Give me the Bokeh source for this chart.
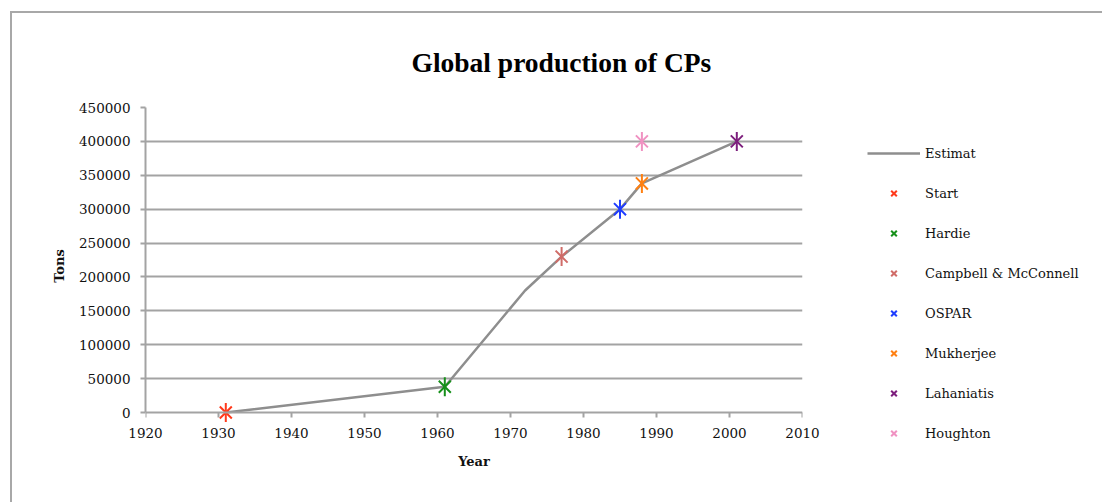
from bokeh.plotting import figure
from bokeh.models import Legend, LegendItem, Title, FixedTicker, NumeralTickFormatter, LinearAxis
from bokeh.embed import file_html
from bokeh.resources import INLINE
import math

# Estimated global production curve (year, tons)
est_years = [1931, 1961, 1972, 1977, 1985, 1988, 2001]
est_tons = [0, 38000, 180000, 230000, 300000, 338000, 400000]

# Individual published estimates
sources = ["Start", "Hardie", "Campbell & McConnell", "OSPAR", "Mukherjee", "Lahaniatis", "Houghton"]
src_years = [1931, 1961, 1977, 1985, 1988, 2001, 1988]
src_tons = [0, 38000, 230000, 300000, 338000, 400000, 400000]
src_colors = ["#ff3a1c", "#16901a", "#d06c68", "#1f3dff", "#ff8012", "#7d1f7d", "#f092c2"]

x_ticks = list(range(1920, 2011, 10))
y_ticks = list(range(0, 450001, 50000))

SERIF = "DejaVu Serif"
GRID = "#a3a3a3"
TEXT = "#111111"

# a little room below zero so the markers sitting on the axis are not cut
Y_PAD = 12 / 305 * 450000

p = figure(
    width=1092, height=491,
    frame_width=657, frame_height=317,
    min_border_left=133, min_border_top=94, min_border_right=300, min_border_bottom=78,
    x_range=(1920, 2010), y_range=(-Y_PAD, 450000),
    x_axis_location=None,
    output_backend="svg", toolbar_location=None,
)
p.styles = {
    "margin-left": "10px", "margin-top": "11px",
    "border-left": "2px solid #a8a8a8", "border-top": "2px solid #a8a8a8",
}
p.outline_line_color = None
p.background_fill_color = "white"
p.border_fill_color = "white"

# x axis line and ticks sit on y = 0
x_line = LinearAxis(
    ticker=FixedTicker(ticks=x_ticks), fixed_location=0,
    axis_line_color=GRID, axis_line_width=2,
    major_tick_line_color=GRID, major_tick_line_width=2,
    major_tick_in=0, major_tick_out=5, minor_tick_line_color=None,
    major_label_text_color=None,
)
p.add_layout(x_line, "below")

# x tick labels and title below the frame
x_labels = LinearAxis(
    ticker=FixedTicker(ticks=x_ticks),
    axis_line_color=None, major_tick_line_color=None, minor_tick_line_color=None,
    major_tick_in=0, major_tick_out=0,
    major_label_standoff=3,
    major_label_text_font=SERIF, major_label_text_font_size="13.5px",
    major_label_text_color=TEXT,
    axis_label="Year", axis_label_standoff=13,
    axis_label_text_font=SERIF, axis_label_text_font_size="13px",
    axis_label_text_font_style="bold", axis_label_text_color=TEXT,
)
p.add_layout(x_labels, "below")

ya = p.yaxis[0]
ya.ticker = FixedTicker(ticks=y_ticks)
ya.formatter = NumeralTickFormatter(format="0")
ya.bounds = (0, 450000)
ya.axis_line_color = GRID
ya.axis_line_width = 2
ya.major_tick_line_color = GRID
ya.major_tick_line_width = 2
ya.major_tick_in = 0
ya.major_tick_out = 5
ya.minor_tick_line_color = None
ya.major_label_text_font = SERIF
ya.major_label_text_font_size = "13.5px"
ya.major_label_text_color = TEXT
ya.major_label_standoff = 10
ya.major_label_orientation = "horizontal"
ya.axis_label = "Tons"
ya.axis_label_standoff = 9
ya.axis_label_text_font = SERIF
ya.axis_label_text_font_size = "13px"
ya.axis_label_text_font_style = "bold"
ya.axis_label_text_color = TEXT

p.xgrid.grid_line_color = None
p.ygrid.ticker = FixedTicker(ticks=y_ticks[1:])
p.ygrid.grid_line_color = GRID
p.ygrid.grid_line_width = 2

# estimate line
est = p.line(est_years, est_tons, line_color="#8e8e8e", line_width=2.5)

items = [LegendItem(label="Estimat", renderers=[est])]
for name, x, y, c in zip(sources, src_years, src_tons, src_colors):
    xr = p.scatter([x], [y], marker="x", size=17, line_color=c, line_width=2)
    p.scatter([x], [y], marker="dash", size=19, angle=math.pi / 2, line_color=c, line_width=2)
    items.append(LegendItem(label=name, renderers=[xr]))

legend = Legend(
    items=items,
    location=(65, -19),
    glyph_width=53, glyph_height=20, label_height=20, spacing=20,
    label_standoff=5, padding=0, margin=0,
    border_line_color=None, background_fill_alpha=0,
    label_text_font=SERIF, label_text_font_size="13px", label_text_color=TEXT,
)
p.add_layout(legend, "right")

title = Title(
    text="Global production of CPs", align="left", offset=266, standoff=59,
    text_font="Liberation Serif", text_font_size="27.5px", text_font_style="bold",
    text_color="#000000",
)
p.add_layout(title, "above")

open("out.html", "w").write(file_html(p, INLINE))
